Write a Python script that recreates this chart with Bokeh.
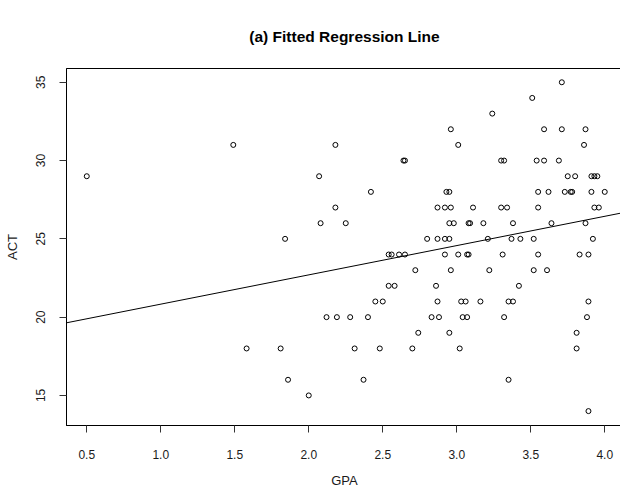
from bokeh.plotting import figure
from bokeh.models import Range1d, FixedTicker, Slope, PrintfTickFormatter
from bokeh.embed import file_html
from bokeh.resources import INLINE

# ---- data ----
act_levels = [35, 34, 33, 32, 31, 30, 29, 28, 27, 26, 25, 24, 23, 22, 21, 20, 19, 18, 16, 15, 14]
gpa_by_act = {
    35: [3.71],
    34: [3.51],
    33: [3.24],
    32: [2.96, 3.59, 3.71, 3.87],
    31: [1.49, 2.18, 3.01, 3.86],
    30: [2.64, 2.65, 3.30, 3.32, 3.54, 3.59, 3.69],
    29: [0.50, 2.07, 3.75, 3.80, 3.91, 3.93, 3.95],
    28: [2.42, 2.93, 2.95, 3.55, 3.62, 3.73, 3.77, 3.78, 3.91, 4.00],
    27: [2.18, 2.87, 2.92, 2.96, 3.11, 3.30, 3.34, 3.55, 3.93, 3.96],
    26: [2.08, 2.25, 2.95, 2.98, 3.08, 3.09, 3.18, 3.38, 3.64, 3.87],
    25: [1.84, 2.80, 2.87, 2.92, 2.95, 3.21, 3.37, 3.43, 3.52, 3.92],
    24: [2.54, 2.56, 2.61, 2.65, 2.92, 3.01, 3.07, 3.08, 3.31, 3.55, 3.83, 3.89],
    23: [2.72, 2.96, 3.22, 3.52, 3.61],
    22: [2.54, 2.58, 2.86, 3.42],
    21: [2.45, 2.50, 2.87, 3.03, 3.06, 3.16, 3.35, 3.38, 3.89],
    20: [2.12, 2.19, 2.28, 2.40, 2.83, 2.88, 3.04, 3.07, 3.32, 3.88],
    19: [2.74, 2.95, 3.81],
    18: [1.58, 1.81, 2.31, 2.48, 2.70, 3.02, 3.81],
    16: [1.86, 2.37, 3.35],
    15: [2.00],
    14: [3.89],
}
gpa = [g for a in act_levels for g in gpa_by_act[a]]
act = [a for a in act_levels for g in gpa_by_act[a]]

fit_intercept = 18.96
fit_slope = 1.87

x_ticks = [0.5, 1.0, 1.5, 2.0, 2.5, 3.0, 3.5, 4.0]
y_ticks = [15, 20, 25, 30, 35]

title_text = "(a) Fitted Regression Line"
x_label = "GPA"
y_label = "ACT"

FONT = "Liberation Sans"

p = figure(
    frame_width=556, frame_height=357,
    min_border_left=66, min_border_right=0, min_border_top=68, min_border_bottom=64,
    x_range=Range1d(0.363, 4.12), y_range=Range1d(13.08, 35.88),
    output_backend="svg", toolbar_location=None, title=title_text,
    background_fill_color="white", border_fill_color="white",
)
p.title.align = "center"
p.title.text_font = FONT
p.title.text_font_size = "15.5px"
p.title.text_font_style = "bold"
p.title.text_color = "black"
p.title.standoff = 47

p.outline_line_color = "black"
p.outline_line_width = 1
p.xgrid.visible = False
p.ygrid.visible = False

for ax in (p.xaxis[0], p.yaxis[0]):
    ax.axis_line_color = "black"
    ax.major_tick_line_color = "#333333"
    ax.minor_tick_line_color = None
    ax.major_tick_in = 0
    ax.major_tick_out = 7
    ax.major_label_text_font = FONT
    ax.major_label_text_font_size = "12px"
    ax.major_label_text_color = "#1a1a1a"
    ax.axis_label_text_font = FONT
    ax.axis_label_text_font_size = "13px"
    ax.axis_label_text_font_style = "normal"
    ax.axis_label_text_color = "#1a1a1a"

p.xaxis.ticker = FixedTicker(ticks=x_ticks)
p.yaxis.ticker = FixedTicker(ticks=y_ticks)
p.xaxis.formatter = PrintfTickFormatter(format="%.1f")
p.yaxis.formatter = PrintfTickFormatter(format="%d")
p.xaxis.axis_label = x_label
p.yaxis.axis_label = y_label
p.xaxis.major_label_standoff = 17
p.xaxis.axis_label_standoff = 11
p.yaxis.major_label_orientation = "vertical"
p.yaxis.major_label_standoff = 14
p.yaxis.axis_label_standoff = 14

p.scatter(gpa, act, marker="circle", size=5, fill_color=None,
          line_color="black", line_width=1)

p.add_layout(Slope(gradient=fit_slope, y_intercept=fit_intercept,
                   line_color="black", line_width=1))

open("out.html", "w").write(file_html(p, INLINE))
